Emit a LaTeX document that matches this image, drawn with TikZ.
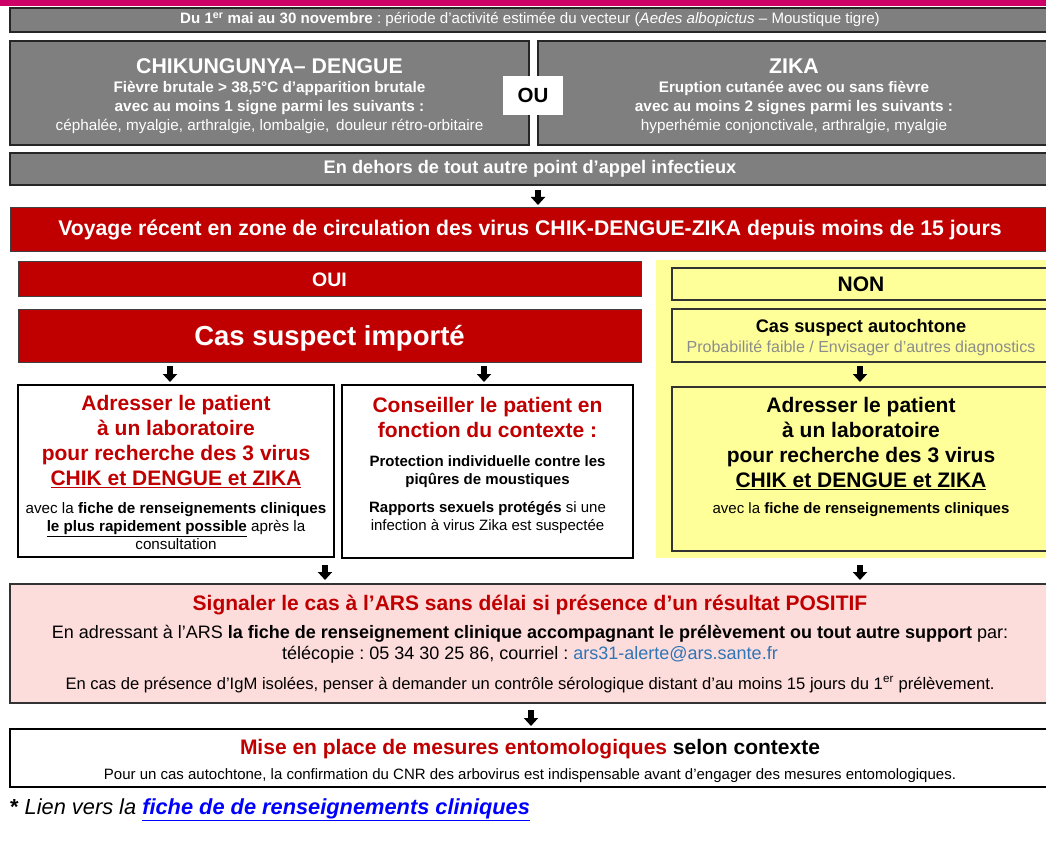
\documentclass[tikz,border=0pt]{standalone}
\usepackage{fontspec}
\setmainfont{Liberation Sans}
\usetikzlibrary{arrows.meta}
\frenchspacing
\definecolor{magbar}{HTML}{CC0066}
\definecolor{greyfill}{HTML}{7F7F7F}
\definecolor{greyline}{HTML}{262626}
\definecolor{redfill}{HTML}{C00000}
\definecolor{redline}{HTML}{404040}
\definecolor{redtext}{HTML}{C00000}
\definecolor{yelfill}{HTML}{FFFF99}
\definecolor{pinkfill}{HTML}{FDDCDC}
\definecolor{maillink}{HTML}{2E75B6}
\definecolor{footlink}{HTML}{0000FF}
\definecolor{softgrey}{HTML}{8C8C8C}
\newcommand\bx[4]{\parbox[t][#2][t]{#1}{\centering\rule{0pt}{#3}#4}}
\newcommand\fs[2]{\fontsize{#1}{#2}\selectfont}
\tikzset{
  base/.style={anchor=north west, inner sep=0pt, outer sep=0pt, align=center},
  greybox/.style={base, fill=greyfill, draw=greyline, line width=1.5pt, text=white},
  redbox/.style={base, fill=redfill, draw=redline, line width=1pt, text=white},
  whitebox/.style={base, fill=white, draw=black, line width=1.2pt},
  yelbox/.style={base, fill=yelfill, draw=black!80, line width=1.2pt},
  pinkbox/.style={base, fill=pinkfill, draw=black!80, line width=1.5pt},
  arr/.style={line width=5.5pt, -{Triangle[width=14pt,length=8pt]}},
}
\begin{document}
\begin{tikzpicture}[x=1pt,y=-1pt]
\useasboundingbox (0,0) rectangle (1046,850);
\clip (0,0) rectangle (1046,850);
\fill[magbar] (0,0) rectangle (1046,6);

% top band
\node[greybox, minimum width=1040pt, minimum height=24pt] (period) at (10,8)
  {\fs{15.1}{18}\textbf{Du 1\textsuperscript{er} mai au 30 novembre} : période d’activité estimée du vecteur (\textit{Aedes albopictus} – Moustique tigre)};

% clinical boxes
\node[greybox] (chik) at (10,41) {\bx{519pt}{104pt}{33pt}{%
  {\fs{21.3}{21}\bfseries CHIKUNGUNYA– DENGUE\par}
  {\fs{15.3}{19}\textbf{Fièvre brutale > 38,5°C d’apparition brutale}\\
   \textbf{avec au moins 1 signe parmi les suivants :}\\
   céphalée, myalgie, arthralgie, lombalgie,\, douleur rétro-orbitaire\par}}};
\node[greybox] (zika) at (538,41) {\bx{512pt}{104pt}{33pt}{%
  {\fs{21.3}{21}\bfseries ZIKA\par}
  {\fs{15.3}{19}\textbf{Eruption cutanée avec ou sans fièvre}\\
   \textbf{avec au moins 2 signes parmi les suivants :}\\
   hyperhémie conjonctivale, arthralgie, myalgie\par}}};
\node[base, fill=white, minimum width=60pt, minimum height=39pt] (ou) at (503,76)
  {\fs{20.5}{24}\bfseries OU};

\node[greybox, minimum width=1040pt, minimum height=32pt] (dehors) at (10,153)
  {\fs{18.2}{21}\bfseries En dehors de tout autre point d’appel infectieux};

\node[redbox, minimum width=1040pt, minimum height=44pt] (voyage) at (10,208)
  {\fs{21.2}{25}\bfseries Voyage récent en zone de circulation des virus CHIK-DENGUE-ZIKA depuis moins de 15 jours};

% yellow background
\fill[yelfill] (656,260) rectangle (1050,558);

\node[redbox, minimum width=623pt, minimum height=34pt] (oui) at (18,262)
  {\fs{19.5}{22}\bfseries\rule{0pt}{15pt}OUI};
\node[yelbox, minimum width=378pt, minimum height=32pt] (non) at (672,268)
  {\fs{21}{24}\bfseries NON};

\node[redbox, minimum width=623pt, minimum height=53pt] (imp) at (18,309)
  {\fs{27.5}{32}\bfseries\rule{0pt}{25pt}Cas suspect importé};
\node[yelbox] (auto) at (672,309) {\bx{378pt}{53pt}{23pt}{%
  {\fs{18.2}{20}\bfseries Cas suspect autochtone\par}
  {\fs{16}{20}\color{softgrey}Probabilité faible / Envisager d’autres diagnostics\par}}};

% action boxes
\node[whitebox] (adrL) at (18,385) {\bx{316pt}{172pt}{25pt}{%
  {\fs{21}{25.3}\bfseries\color{redtext}Adresser le patient\\ à un laboratoire\\ pour recherche des 3 virus\\ \underline{CHIK et DENGUE et ZIKA}\par}
  {\fs{15.2}{18}\vspace{10pt}avec la \textbf{fiche de renseignements cliniques}\\
   \textbf{\underline{le plus rapidement possible}} après la\\ consultation\par}}};
\node[whitebox] (cons) at (342,385) {\bx{291pt}{173pt}{27pt}{%
  {\fs{21}{25}\bfseries\color{redtext}Conseiller le patient en\\ fonction du contexte :\par}
  {\fs{15}{18}\vspace{11pt}\textbf{Protection individuelle contre les}\\ \textbf{piqûres de moustiques}\par
   \vspace{10pt}\textbf{Rapports sexuels protégés} si une\\ infection à virus Zika est suspectée\par}}};
\node[yelbox] (adrR) at (672,387) {\bx{378pt}{164pt}{25pt}{%
  {\fs{21}{25.3}\bfseries Adresser le patient\\ à un laboratoire\\ pour recherche des 3 virus\\ \underline{CHIK et DENGUE et ZIKA}\par}
  {\fs{15}{25.5}avec la \textbf{fiche de renseignements cliniques}\par}}};

% reporting
\node[pinkbox] (ars) at (10,584) {\bx{1040pt}{119pt}{26pt}{%
  {\fs{21}{27}\bfseries\color{redtext}Signaler le cas à l'ARS sans délai si présence d’un résultat POSITIF\par}
  {\fs{18}{21}\vspace{7pt}En adressant à l’ARS \textbf{la fiche de renseignement clinique accompagnant le prélèvement ou tout autre support} par:\\
   télécopie : 05 34 30 25 86, courriel : \textcolor{maillink}{ars31-alerte@ars.sante.fr}\par}
  {\fs{16.6}{30}En cas de présence d’IgM isolées, penser à demander un contrôle sérologique distant d’au moins 15 jours du 1\textsuperscript{er} prélèvement.\par}}};

\node[whitebox] (mise) at (10,729) {\bx{1040pt}{58pt}{25pt}{%
  {\fs{21}{22}\bfseries\textcolor{redtext}{Mise en place de mesures entomologiques} selon contexte\par}
  {\fs{15}{25}Pour un cas autochtone, la confirmation du CNR des arbovirus est indispensable avant d’engager des mesures entomologiques.\par}}};

\node[anchor=west, inner sep=0pt] (foot) at (10,810)
  {\fs{21.8}{26}\textbf{*} \textit{Lien vers la} \textbf{\textit{\color{footlink}\underline{fiche de de renseignements cliniques}}}};

% arrows
\coordinate (xa) at (538,0);
\coordinate (xb) at (170,0);
\coordinate (xc) at (484,0);
\coordinate (xd) at (860,0);
\coordinate (xe) at (325,0);
\coordinate (xf) at (531,0);
\draw[arr, shorten <=5pt, shorten >=3pt] (dehors.south -| xa) -- (voyage.north -| xa);
\draw[arr, shorten <=4pt, shorten >=3pt] (imp.south -| xb) -- (adrL.north -| xb);
\draw[arr, shorten <=4pt, shorten >=3pt] (imp.south -| xc) -- (cons.north -| xc);
\draw[arr, shorten <=4pt, shorten >=5pt] (auto.south -| xd) -- (adrR.north -| xd);
\draw[arr, shorten <=8pt, shorten >=4pt] (adrL.south -| xe) -- (ars.north -| xe);
\draw[arr, shorten <=14pt, shorten >=4pt] (adrR.south -| xd) -- (ars.north -| xd);
\draw[arr, shorten <=7pt, shorten >=3pt] (ars.south -| xf) -- (mise.north -| xf);
\end{tikzpicture}
\end{document}
